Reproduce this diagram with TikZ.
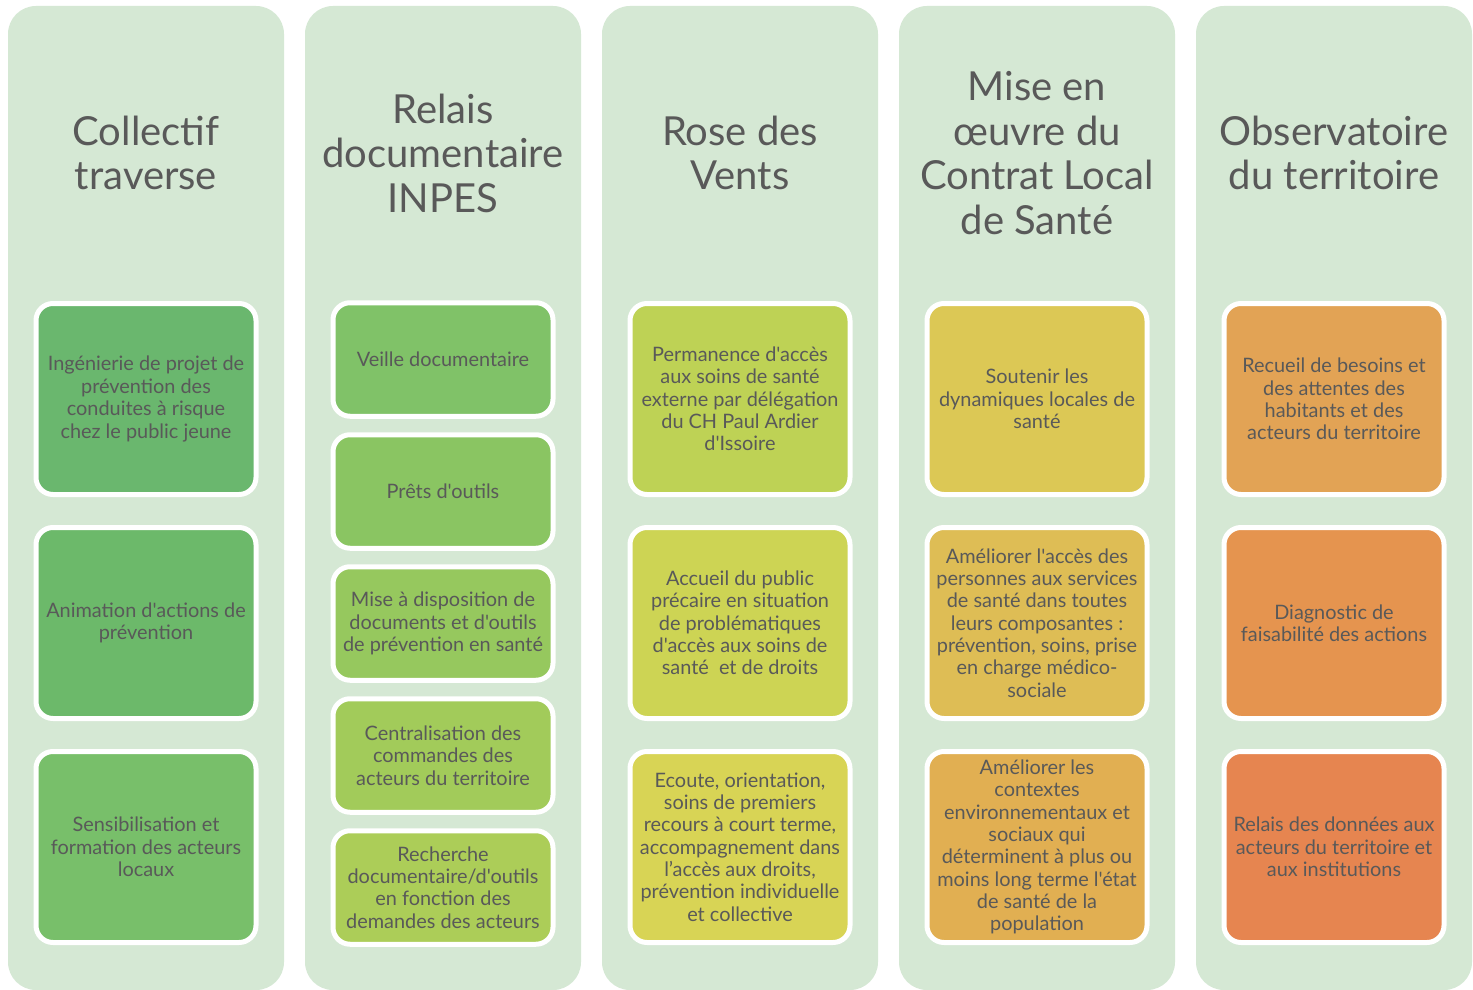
\documentclass[tikz,border=0pt]{standalone}
\usepackage{fontspec}
\setmainfont{Lato}[Ligatures=TeXOff]
\definecolor{colbg}{HTML}{D5E8D4}
\definecolor{txt}{HTML}{595959}
\definecolor{ca}{HTML}{6AB76E}
\definecolor{cb}{HTML}{6CB96A}
\definecolor{cc}{HTML}{78BF6A}
\definecolor{da}{HTML}{80C268}
\definecolor{db}{HTML}{8AC562}
\definecolor{dc}{HTML}{96C85E}
\definecolor{dd}{HTML}{A2CB5A}
\definecolor{de}{HTML}{ACCD58}
\definecolor{ea}{HTML}{BED255}
\definecolor{eb}{HTML}{CDD454}
\definecolor{ec}{HTML}{D8D455}
\definecolor{fa}{HTML}{DCC855}
\definecolor{fb}{HTML}{DEBD55}
\definecolor{fc}{HTML}{E1AF52}
\definecolor{ga}{HTML}{E2A355}
\definecolor{gb}{HTML}{E5944F}
\definecolor{gc}{HTML}{E68550}
\begin{document}
\begin{tikzpicture}[x=1pt,y=-1pt,
  colpanel/.style={fill=colbg, rounded corners=28pt},
  boxn/.style={draw=white, line width=5pt, rounded corners=17pt, minimum width=220pt,
    inner sep=0pt, align=center, text=txt, font=\fontsize{19.9}{22.35}\selectfont},
  tallbox/.style={boxn, minimum height=191pt},
  shortbox/.style={boxn, minimum height=113.5pt},
  titlen/.style={align=center, text=txt, font=\fontsize{40}{44.5}\selectfont}]
\useasboundingbox (0,0) rectangle (1473,990);
\fill[white] (0,0) rectangle (1473,990);
% columns
\foreach \cx in {146,443,740,1037,1334}{
  \fill[colpanel] (\cx-138,6) rectangle (\cx+138,990);
}
% titles
\node[titlen] (t1) at (146,153) {Collectif\\traverse};
\node[titlen] (t2) at (443,153) {Relais\\documentaire\\INPES};
\node[titlen] (t3) at (740,153) {Rose des\\Vents};
\node[titlen] (t4) at (1037,153) {Mise en\\œuvre du\\Contrat Local\\de Santé};
\node[titlen] (t5) at (1334,153) {Observatoire\\du territoire};
% column 1
\node[tallbox, fill=ca] (c1b1) at (146,399) {Ingénierie de projet de\\prévention des\\conduites à risque\\chez le public jeune};
\node[tallbox, fill=cb] (c1b2) at (146,623) {Animation d'actions de\\prévention};
\node[tallbox, fill=cc] (c1b3) at (146,847) {Sensibilisation et\\formation des acteurs\\locaux};
% column 2
\node[shortbox, fill=da] (c2b1) at (443,359.5) {Veille documentaire};
\node[shortbox, fill=db] (c2b2) at (443,491.5) {Prêts d'outils};
\node[shortbox, fill=dc] (c2b3) at (443,623.5) {Mise à disposition de\\documents et d'outils\\de prévention en santé};
\node[shortbox, fill=dd] (c2b4) at (443,755.5) {Centralisation des\\commandes des\\acteurs du territoire};
\node[shortbox, fill=de] (c2b5) at (443,887.5) {Recherche\\documentaire/d'outils\\en fonction des\\demandes des acteurs};
% column 3
\node[tallbox, fill=ea] (c3b1) at (740,399) {Permanence d'accès\\aux soins de santé\\externe par délégation\\du CH Paul Ardier\\d'Issoire};
\node[tallbox, fill=eb] (c3b2) at (740,623) {Accueil du public\\précaire en situation\\de problématiques\\d'accès aux soins de\\santé~ et de droits};
\node[tallbox, fill=ec] (c3b3) at (740,847) {Ecoute, orientation,\\soins de premiers\\recours à court terme,\\accompagnement dans\\l’accès aux droits,\\prévention individuelle\\et collective};
% column 4
\node[tallbox, fill=fa] (c4b1) at (1037,399) {Soutenir les\\dynamiques locales de\\santé};
\node[tallbox, fill=fb] (c4b2) at (1037,623) {Améliorer l'accès des\\personnes aux services\\de santé dans toutes\\leurs composantes :\\prévention, soins, prise\\en charge médico-\\sociale};
\node[tallbox, fill=fc] (c4b3) at (1037,847) {Améliorer les\\contextes\\environnementaux et\\sociaux qui\\déterminent à plus ou\\moins long terme l'état\\de santé de la\\population};
% column 5
\node[tallbox, fill=ga] (c5b1) at (1334,399) {Recueil de besoins et\\des attentes des\\habitants et des\\acteurs du territoire};
\node[tallbox, fill=gb] (c5b2) at (1334,623) {Diagnostic de\\faisabilité des actions};
\node[tallbox, fill=gc] (c5b3) at (1334,847) {Relais des données aux\\acteurs du territoire et\\aux institutions};
\end{tikzpicture}
\end{document}
